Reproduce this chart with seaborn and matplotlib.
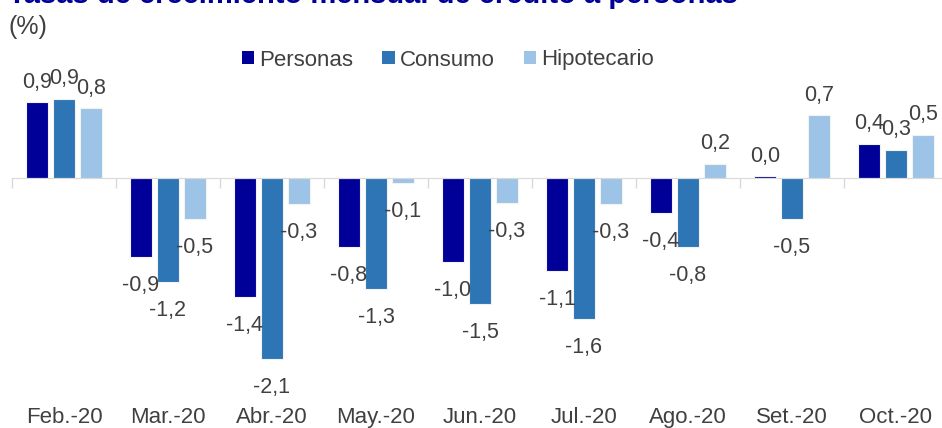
import pandas as pd
import matplotlib
matplotlib.use('Agg')
import matplotlib.pyplot as plt
from matplotlib.patches import Patch
import seaborn as sns
import numpy as np

months = ['Feb.-20', 'Mar.-20', 'Abr.-20', 'May.-20', 'Jun.-20', 'Jul.-20', 'Ago.-20', 'Set.-20', 'Oct.-20']
personas = [0.88, -0.92, -1.38, -0.80, -0.98, -1.08, -0.41, 0.02, 0.40]
consumo = [0.92, -1.21, -2.10, -1.29, -1.46, -1.64, -0.80, -0.48, 0.33]
hipotecario = [0.81, -0.48, -0.30, -0.06, -0.29, -0.30, 0.17, 0.73, 0.50]
series = ['Personas', 'Consumo', 'Hipotecario']
colors = ['#000099', '#2E75B6', '#9DC3E6']

df = pd.DataFrame({
    'mes': months * 3,
    'serie': np.repeat(series, len(months)),
    'valor': personas + consumo + hipotecario,
})

txt = '#404040'
plt.rcParams['font.family'] = ['Liberation Sans', 'DejaVu Sans']

fig = plt.figure(figsize=(9.42, 4.28), dpi=100)
W, H = 942, 428
ax = fig.add_axes([12 / W, (H - 400) / H, 936 / W, 350 / H])

sns.barplot(data=df, x='mes', y='valor', hue='serie', order=months, hue_order=series,
            palette=colors, saturation=1, width=0.78, gap=0.22, edgecolor='#F2F2F2',
            linewidth=0.8, ax=ax, legend=False)

ax.set_xlim(-0.5, 8.5)
ax.set_ylim(-2.58, 1.49)

def fmt(v):
    return f'{v:.1f}'.replace('.', ',')

# positive labels sit a bit closer to the bar than negative ones
for bars in ax.containers:
    h = [b.get_height() for b in bars]
    ax.bar_label(bars, labels=[fmt(v) if v >= 0 else '' for v in h],
                 padding=7, fontsize=15.5, color=txt)
    ax.bar_label(bars, labels=[fmt(v) if v < 0 else '' for v in h],
                 padding=13, fontsize=15.5, color=txt)

for s in ['top', 'right', 'left']:
    ax.spines[s].set_visible(False)
ax.spines['bottom'].set_position(('data', 0))
ax.spines['bottom'].set_color('#D9D9D9')
ax.set_yticks([])
ax.set_xticks(np.arange(-0.5, 9, 1), minor=True)
ax.set_xticks(range(len(months)))
ax.set_xticklabels([])
ax.tick_params(axis='x', which='major', length=0)
ax.tick_params(axis='x', which='minor', length=7, color='#D9D9D9', width=1)
ax.set_xlabel('')
ax.set_ylabel('')

for i, m in enumerate(months):
    ax.text(i, -0.05, m, transform=ax.get_xaxis_transform(), ha='center', va='center',
            fontsize=16, color=txt)

handles = [Patch(facecolor=c, edgecolor='none') for c in colors]
fig.legend(handles, series, loc='center', bbox_to_anchor=(448 / W, 1 - 60 / H), ncol=3,
           frameon=False, fontsize=16, handlelength=0.55, handleheight=0.55,
           handletextpad=0.25, columnspacing=1.3, labelcolor=txt)

fig.text(8 / W, 1 - 3 / H, 'Tasas de crecimiento mensual de crédito a personas',
         fontsize=21, fontweight='bold', color='#000099', va='baseline', ha='left')
fig.text(9 / W, 1 - 27 / H, '(%)', fontsize=18, color=txt, va='center', ha='left')

fig.savefig('out.png', dpi=100)
